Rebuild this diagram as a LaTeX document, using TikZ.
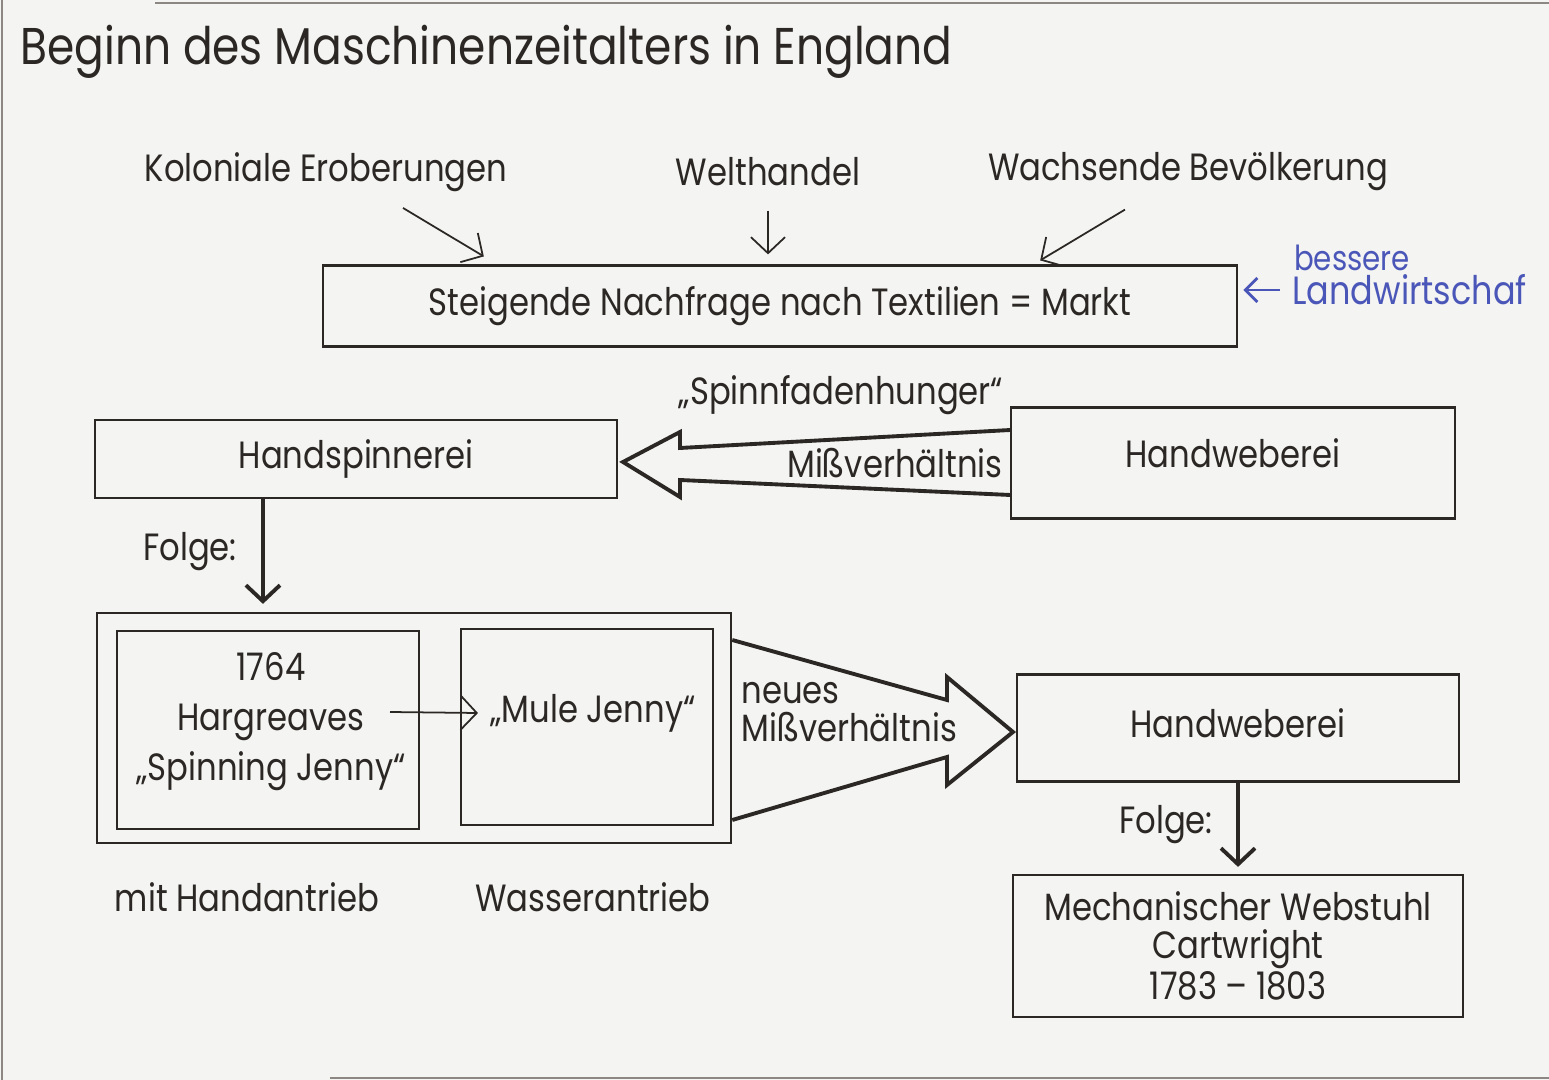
\documentclass[tikz,border=0pt]{standalone}
\usepackage{fontspec}
\setmainfont{Poppins}[FakeStretch=0.85]
\usepackage{tikz}
\usetikzlibrary{arrows.meta,positioning,calc}
\usepackage{xcolor}
\definecolor{inkgray}{HTML}{2B2724}
\definecolor{paper}{HTML}{F4F4F2}
\definecolor{penblue}{HTML}{4B57B8}
\definecolor{edgegray}{HTML}{8C8782}

\begin{document}
\begin{tikzpicture}[x=0.01cm, y=-0.01cm,
  every node/.style={font=\fontsize{10.8}{13}\selectfont, text=inkgray},
  box/.style ={draw=inkgray, line width=0.6pt, inner sep=0pt, align=center},
  tit/.style ={font=\fontsize{14.7}{18}\selectfont},
  note/.style={font=\fontsize{9.8}{10}\selectfont, text=penblue},
  arr/.style ={-{Straight Barb[length=1.6mm,width=3.4mm]}, line width=0.5pt, draw=inkgray},
  farr/.style={arr, line width=1.1pt},
  bluearr/.style={-{Straight Barb[length=1.2mm,width=2.4mm]}, line width=0.8pt, draw=penblue},
  hollow/.style={draw=inkgray, line width=1.1pt, line join=miter},
  edge/.style={draw=edgegray, line width=0.6pt}
]
\fill[paper] (0,0) rectangle (1549,1080);
\useasboundingbox (0,0) rectangle (1549,1080);
\draw[edge] (155,3) -- (1549,3);
\draw[edge] (2,0) -- (2,1080);
\draw[edge] (330,1078) -- (1549,1078);

%% ─── Titel und Ursachen ────────────────────────────────────────────────────
\node[tit, anchor=west] (title) at (8,52) {Beginn des Maschinenzeitalters in England};

\node (kol)   at ( 326,172) {Koloniale Eroberungen};
\node (welt)  at ( 768,172) {Welthandel};
\node (wachs) at (1188,172) {Wachsende Bevölkerung};

\node[box, minimum width=9.14cm, minimum height=0.81cm]
      (markt) at (780,306) {Steigende Nachfrage nach Textilien = Markt};

\draw[arr] ([xshift=0.77cm,yshift=-0.04cm]kol.south) -- ([xshift=-2.96cm,yshift=0.08cm]markt.north);
\draw[arr, shorten <=1.2mm, shorten >=1mm] (welt.south) -- (welt.south |- markt.north);
\draw[arr] ([xshift=-0.63cm,yshift=-0.06cm]wachs.south) -- ([xshift=2.6cm,yshift=0.04cm]markt.north);

\node[note] (bess) at (1352,258) {bessere};
\node[note, font=\fontsize{11.2}{11}\selectfont, anchor=west] (landw) at (1280,290) {Landwirtschaf};
\draw[bluearr] (landw.west) -- ([xshift=0.05cm]markt.east |- landw.west);

%% ─── Missverhaeltnis ───────────────────────────────────────────────────────
\node (hunger) at (841,395) {„Spinnfadenhunger“};
\node[box, minimum width=5.22cm, minimum height=0.78cm] (spin) at (356,459) {Handspinnerei};
\node[box, minimum width=4.43cm, minimum height=1.11cm, text depth=0.2cm]
      (weber1) at (1233,463) {Handweberei};
\node (miss) at (895,463) {Mißverhältnis};

\draw[hollow] (weber1.west |- 0,430) -- (680,448) -- (680,432) -- (623,462)
              -- (680,497) -- (680,480) -- (weber1.west |- 0,495);

%% ─── Folge: Spinnmaschinen ─────────────────────────────────────────────────
\node (folge1) at (190,552) {Folge:};
\node[box, minimum width=6.34cm, minimum height=2.30cm] (frame) at (414,728) {};
\node[box, minimum width=3.02cm, minimum height=1.97cm] (hand)  at (268,730) {};
\node[box, minimum width=2.52cm, minimum height=1.95cm] (water) at (587,727) {};
\node[align=center, font=\fontsize{10.8}{14.2}\selectfont]
      (jenny) at (271,722) {1764\\Hargreaves\\„Spinning Jenny“};
\node (mule) at (593,713) {„Mule Jenny“};
\coordinate (jstart) at (390,712);
\node (mith) at (247,897) {mit Handantrieb};
\node (wass) at (593,897) {Wasserantrieb};

\draw[farr, shorten >=0.08cm] ([xshift=-0.93cm]spin.south) -- ([xshift=-0.93cm]spin.south |- frame.north);
\draw[arr] (jstart) -- (mule.west);

%% ─── neues Missverhaeltnis ─────────────────────────────────────────────────
\node[anchor=west, align=left, font=\fontsize{10.8}{11}\selectfont]
      (neues) at (729,712) {neues\\Mißverhältnis};
\node[box, minimum width=4.42cm, minimum height=1.07cm, text depth=0.1cm]
      (weber2) at (1238,728) {Handweberei};

\draw[hollow] (frame.east |- 0,640) -- (947,700) -- (947,677) -- (1013,732)
              -- (947,785) -- (947,757) -- (frame.east |- 0,820);

%% ─── Folge: Webstuhl ───────────────────────────────────────────────────────
\node (folge2) at (1166,825) {Folge:};
\node[box, minimum width=4.50cm, minimum height=1.42cm, font=\fontsize{10.8}{10.8}\selectfont]
      (loom) at (1238,946) {Mechanischer Webstuhl\\Cartwright\\1783 – 1803};

\draw[farr, shorten >=0.07cm] (weber2.south) -- (loom.north);

\end{tikzpicture}
\end{document}
